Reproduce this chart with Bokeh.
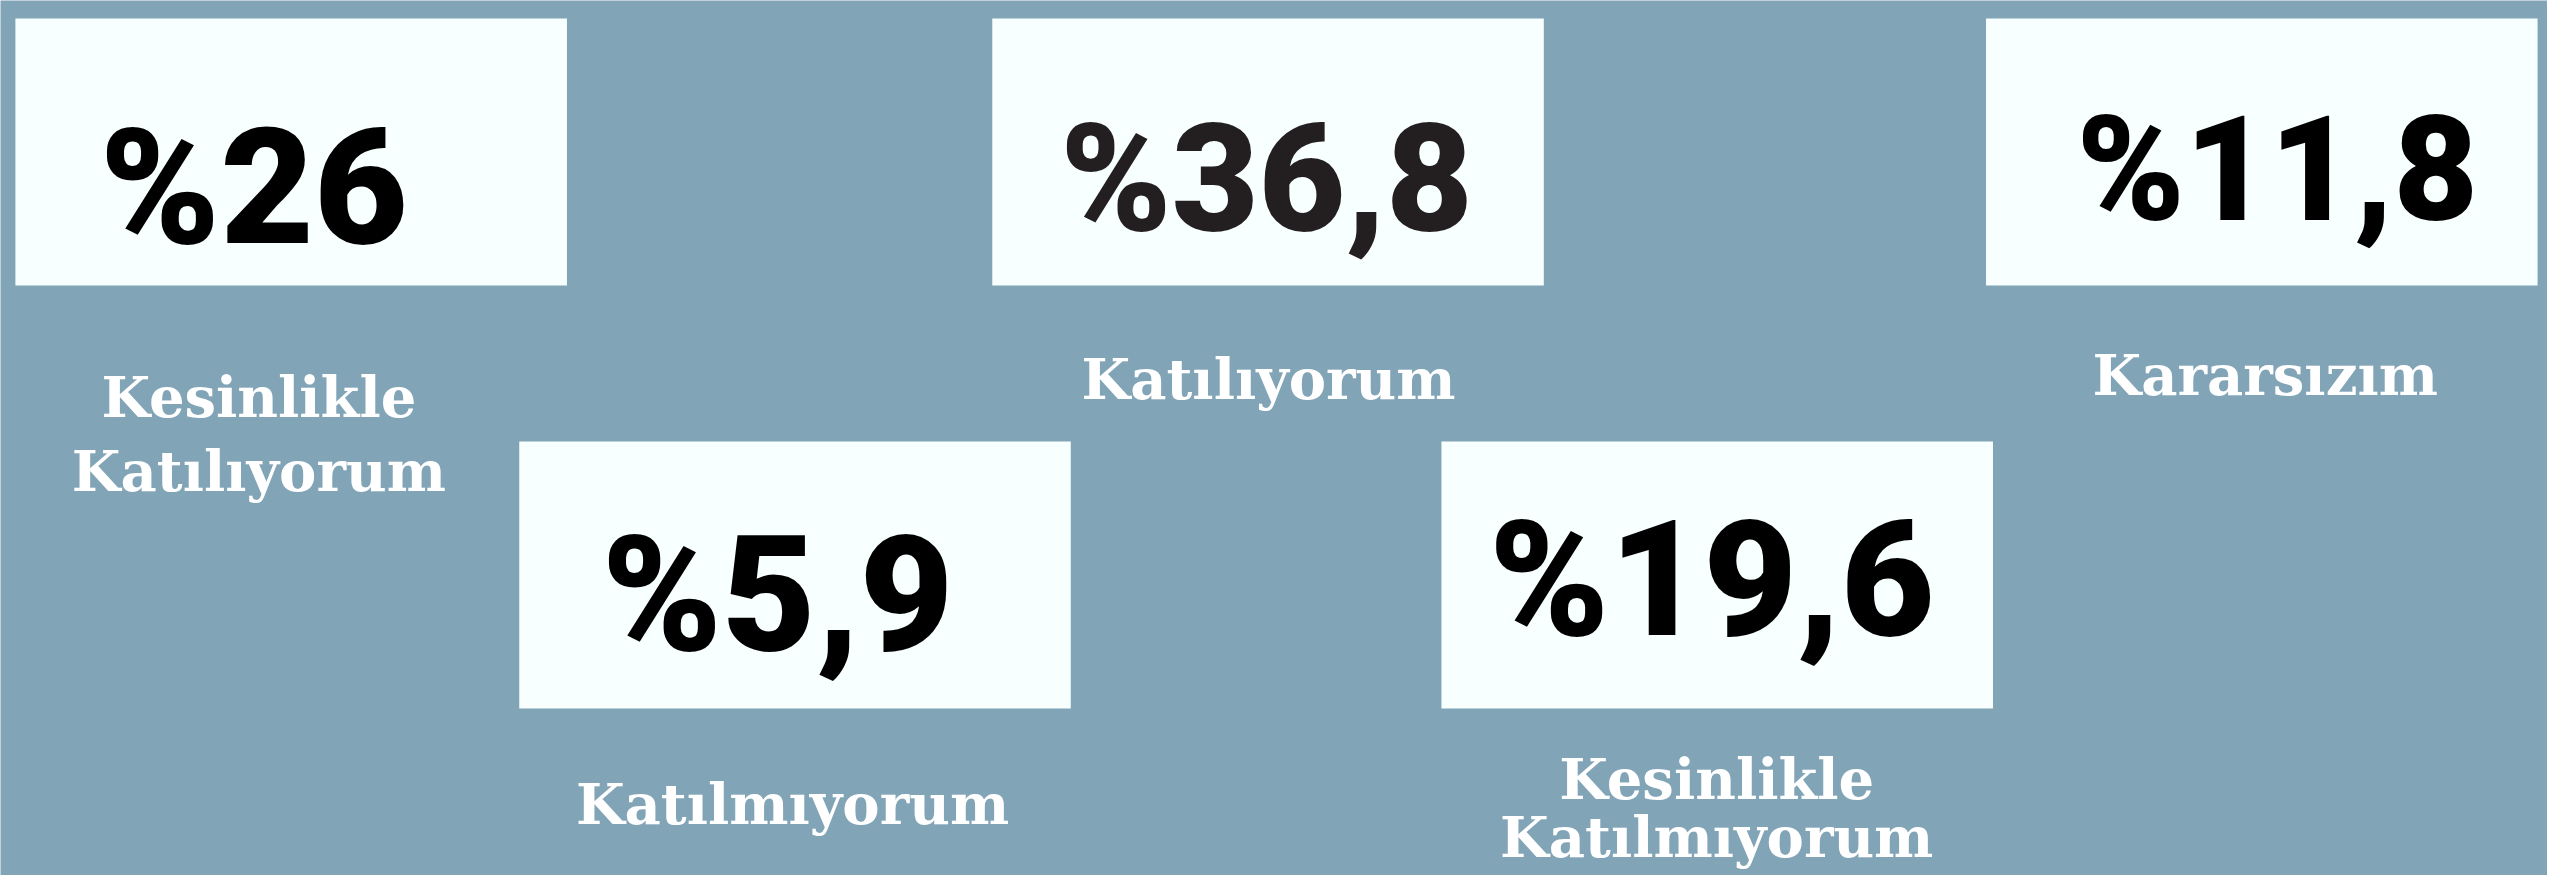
from bokeh.plotting import figure
from bokeh.models import ColumnDataSource, Range1d
from bokeh.core.properties import value
from bokeh.embed import file_html
from bokeh.resources import INLINE

# ---- data ----
categories = ["Kesinlikle\nKatılıyorum", "Katılıyorum", "Kararsızım",
              "Katılmıyorum", "Kesinlikle\nKatılmıyorum"]
percentages = [26, 36.8, 11.8, 5.9, 19.6]

# ---- layout (pixel positions of the cards, label placement, sizes) ----
box_left = [15, 998, 1998, 522, 1450]
box_top = [18, 18, 18, 441, 441]
box_w = 555
box_h = 267
num_x = [255, 1274, 2291, 782, 1722]
num_base = [243, 230, 220, 650, 635]
num_size = [162, 150, 146, 162, 162]
num_color = ["#000000", "#231f20", "#000000", "#000000", "#000000"]
lab_x = [260, 1276, 2279, 797, 1727]
lab_base = [410, 392, 388, 817, 792]
lab_step = [74, 0, 0, 0, 58]
lab_size = 56
NUM_FIX = 0.34   # empirical shift for the renderer's alphabetic baseline
LAB_FIX = 0.25

BG = "#81a4b7"
CARD = "#f8ffff"

W, H = 2547, 875
p = figure(width=W, height=H, output_backend="svg", toolbar_location=None,
           x_range=Range1d(0, 2563), y_range=Range1d(H, 0),
           min_border=0, outline_line_color=None,
           background_fill_color=BG, border_fill_color=BG)
p.axis.visible = False
p.grid.visible = False

def fmt(v):
    s = ("%g" % v).replace(".", ",")
    return "%" + s

boxes = ColumnDataSource(dict(
    left=box_left,
    right=[l + box_w for l in box_left],
    top=box_top,
    bottom=[t + box_h for t in box_top],
))
p.quad(left="left", right="right", top="top", bottom="bottom", source=boxes,
       fill_color=CARD, line_color=None)

for i, v in enumerate(percentages):
    p.text(x=[num_x[i]], y=[num_base[i] - NUM_FIX * num_size[i]], text=[fmt(v)],
           text_font=value("Roboto Black"), text_font_style="normal",
           text_font_size=f"{num_size[i]}px", text_color=num_color[i],
           text_align="center", text_baseline="alphabetic")

lx, ly, lt = [], [], []
for i, c in enumerate(categories):
    for j, line in enumerate(c.split("\n")):
        lx.append(lab_x[i])
        ly.append(lab_base[i] + j * lab_step[i] - LAB_FIX * lab_size)
        lt.append(line)
p.text(x=lx, y=ly, text=lt, text_font=value("DejaVu Serif"),
       text_font_style="bold", text_font_size=f"{lab_size}px", text_color="#ffffff",
       text_align="center", text_baseline="alphabetic")

open("out.html", "w").write(file_html(p, INLINE))
